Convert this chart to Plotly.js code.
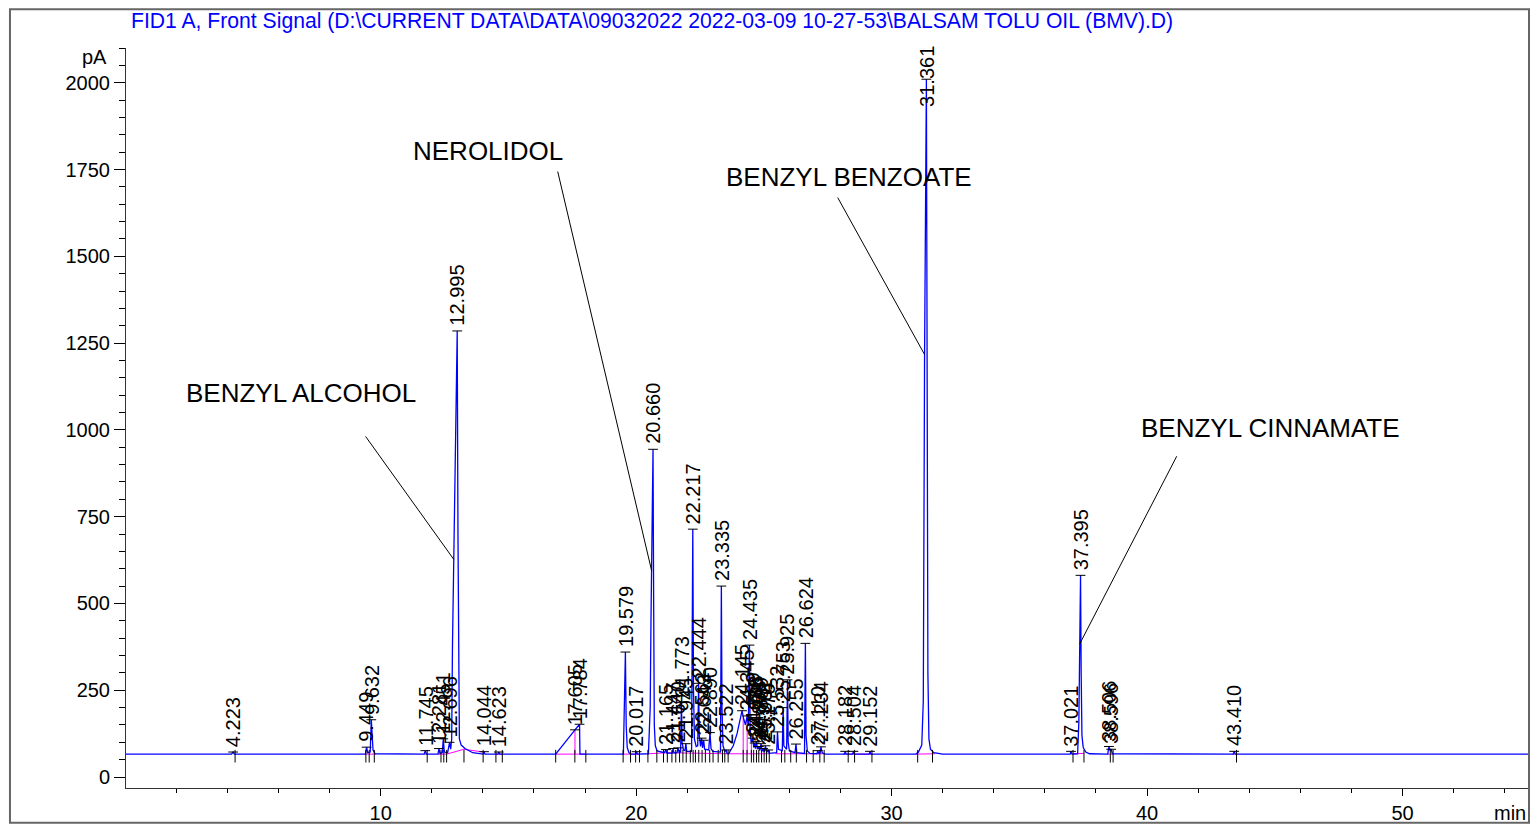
<!DOCTYPE html>
<html>
<head>
<meta charset="utf-8">
<script src="https://cdn.plot.ly/plotly-3.0.1.min.js"></script>
<style>
html,body{margin:0;padding:0;background:#fff;}
#chart{width:1531px;height:825px;}
</style>
</head>
<body>
<div id="chart"></div>
<script>
// ---- Chromatogram signal (retention time in min, signal in pA) ----
const signalTime = [
 0, 4.16, 4.223, 4.27,
 9.40, 9.449, 9.49, 9.59, 9.632, 9.66, 9.70, 9.78,
 11.70, 11.745, 11.79,
 12.24, 12.281, 12.32, 12.41, 12.451, 12.49, 12.62, 12.696, 12.74, 12.78, 12.81, 12.86, 12.93, 12.995, 13.025, 13.05, 13.08, 13.15, 13.30, 13.60, 13.90,
 14.0, 14.044, 14.08, 14.59, 14.623, 14.66,
 16.85, 17.605, 17.784, 17.80,
 19.50, 19.579, 19.61, 19.65, 19.72, 19.80, 19.98, 20.017, 20.05,
 20.48, 20.55, 20.58, 20.61, 20.660, 20.685, 20.71, 20.75, 20.82,
 21.10, 21.165, 21.20, 21.41, 21.447, 21.48, 21.60, 21.640, 21.68, 21.74, 21.773, 21.80, 21.85, 21.91, 21.945, 21.98,
 22.17, 22.217, 22.245, 22.28, 22.35, 22.41, 22.444, 22.47, 22.52, 22.562, 22.60, 22.643, 22.68, 22.84, 22.890, 22.93, 23.00,
 23.30, 23.335, 23.36, 23.40, 23.47, 23.522, 23.56, 23.62,
 23.80, 23.95, 24.08, 24.145, 24.20, 24.28, 24.345, 24.39, 24.435, 24.46, 24.50,
 24.569, 24.60, 24.636, 24.67, 24.708, 24.75, 24.803, 24.84, 24.889, 24.93, 24.972, 25.01, 25.061, 25.11, 25.170, 25.21,
 25.50, 25.532, 25.57, 25.72, 25.753, 25.78, 25.89, 25.925, 25.95, 26.00, 26.22, 26.255, 26.29, 26.59, 26.624, 26.65, 26.70, 26.80,
 27.08, 27.110, 27.15, 27.20, 27.234, 27.28, 27.40,
 28.15, 28.182, 28.22, 28.47, 28.504, 28.54, 29.12, 29.152, 29.19,
 30.95, 31.05, 31.18, 31.24, 31.29, 31.361, 31.39, 31.42, 31.46, 31.52, 31.65, 32.0,
 36.99, 37.021, 37.06, 37.28, 37.33, 37.36, 37.395, 37.42, 37.45, 37.50, 37.60, 37.75,
 38.46, 38.506, 38.55, 38.596, 38.64,
 43.37, 43.410, 43.45, 54.95
];
const signalPA = [
 66, 66, 72, 66,
 66, 86, 70, 72, 165, 110, 78, 67,
 66, 76, 66,
 66, 82, 68, 70, 110, 72, 70, 100, 80, 110, 380, 627, 950, 1285, 700, 200, 110, 92, 82, 70, 67,
 66, 73, 66, 66, 72, 66,
 66, 136, 152, 66,
 66, 360, 150, 85, 70, 66, 66, 73, 66,
 67, 200, 450, 593, 944, 500, 150, 90, 75,
 70, 79, 69, 69, 82, 69, 70, 84, 71, 72, 215, 100, 78, 76, 96, 74,
 74, 714, 250, 110, 88, 90, 270, 120, 88, 112, 84, 106, 80, 78, 128, 82, 74,
 72, 550, 200, 90, 74, 78, 68, 67,
 90, 125, 165, 191, 170, 150, 176, 150, 380, 140, 100,
 112, 85, 98, 82, 102, 80, 88, 76, 96, 74, 82, 72, 90, 71, 78, 68,
 70, 130, 80, 76, 200, 90, 80, 280, 100, 75, 70, 95, 70, 68, 385, 120, 75, 68,
 67, 76, 68, 70, 87, 70, 66,
 66, 74, 66, 66, 74, 66, 66, 74, 66,
 66, 72, 92, 220, 1217, 2010, 1200, 300, 110, 80, 70, 66,
 66, 74, 66, 67, 160, 383, 581, 300, 120, 85, 72, 67,
 66, 88, 76, 80, 67,
 66, 74, 66, 66
];

// ---- Integration baseline (magenta), null separates segments ----
const baselineTime = [9.40, 9.80, null, 11.70, 11.82, null, 12.24, 12.58, 13.26, 14.01, 14.08, null, 14.51, 14.76, null,
 16.85, 18.03, null, 17.605, 17.605, null, 19.49, 20.13, null, 20.46, 21.22, 23.60, null, 23.62, 25.21, null,
 24.19, 24.19, null, 24.345, 24.345, null, 24.51, 24.51, null, 25.45, 27.36, null, 28.10, 29.25, null, 30.95, 31.70, null,
 37.10, 37.53, null, 38.44, 38.67, null, 43.35, 43.50];
const baselinePA = [66, 66, null, 66, 66, null, 66, 66, 80, 72, 66, null, 66, 66, null,
 66, 66, null, 66, 136, null, 66, 66, null, 67, 70, 67, null, 67, 67, null,
 66, 170, null, 66, 176, null, 66, 100, null, 67, 67, null, 66, 66, null, 66, 67, null,
 67, 68, null, 66, 66, null, 66, 66];

// ---- Integration event tick marks (min) ----
const eventTimes = [4.30, 9.42, 9.55, 9.75, 11.82, 12.36, 12.47, 12.58, 13.26, 14.01, 14.51, 14.76, 16.85, 17.60, 18.03,
 19.49, 19.78, 19.98, 20.13, 20.46, 20.81, 21.07, 21.22, 21.40, 21.55, 21.70, 21.83, 21.96, 22.12, 22.23, 22.32, 22.45,
 22.58, 22.71, 22.88, 23.01, 23.21, 23.38, 23.47, 23.60, 24.19, 24.34, 24.51, 24.60, 24.71, 24.80, 24.91, 25.01, 25.10,
 25.21, 25.69, 25.82, 26.05, 26.27, 26.67, 26.93, 27.19, 27.36, 28.30, 28.55, 29.23, 31.02, 31.60, 37.10, 37.53, 38.56,
 38.67, 43.50];
const eventLevel = 60;

// ---- Peak labels (retention times) and apex heights ----
const peakLabels = ['4.223','9.449','9.632','11.745','12.281','12.451','12.696','12.995','14.044','14.623','17.605','17.784',
 '19.579','20.017','20.660','21.165','21.447','21.640','21.773','21.945','22.217','22.444','22.562','22.643','22.890',
 '23.335','23.522','24.145','24.345','24.435','24.569','24.636','24.708','24.803','24.889','24.972','25.061','25.170',
 '25.532','25.753','25.925','26.255','26.624','27.110','27.234','28.182','28.504','29.152','31.361','37.021','37.395',
 '38.506','38.596','43.410'];
const peakApex = [72, 86, 165, 76, 82, 110, 100, 1285, 73, 72, 136, 152,
 360, 73, 944, 79, 82, 84, 215, 96, 714, 270, 112, 106, 128,
 550, 78, 191, 176, 380, 112, 98, 102, 88, 96, 82, 90, 78,
 130, 200, 280, 95, 385, 76, 87, 74, 74, 74, 2010, 74, 581,
 88, 80, 74];

// ---- Compound names ----
const compoundNames = ['BENZYL ALCOHOL', 'NEROLIDOL', 'BENZYL BENZOATE', 'BENZYL CINNAMATE'];
const compoundTime = [12.86, 20.61, 31.29, 37.36];   // peak flank the pointer touches
const compoundPA = [627, 593, 1217, 383];

const titleText = 'FID1 A, Front Signal (D:\\CURRENT DATA\\DATA\\09032022 2022-03-09 10-27-53\\BALSAM TOLU OIL (BMV).D)';
const xTicks = [10, 20, 30, 40, 50];
const yTicks = [0, 250, 500, 750, 1000, 1250, 1500, 1750, 2000];

// ---- layout helpers (label & pointer placement, layout only) ----
const namePos = [ [6.89, 1105], [14.21, 1804], [28.32, 1729], [44.83, 1004] ];
const pointerStart = [ [9.41, 981], [16.93, 1744], [27.89, 1669], [41.16, 924] ];
const Y_TOP = 2100;
const LABEL_SPAN = 190;   // approx. label length in pA units

const FONT = 'Liberation Sans, Arial, Helvetica, sans-serif';
const peakNums = peakLabels.map(Number);

const traces = [
  { x: baselineTime, y: baselinePA, mode: 'lines', line: {color: '#ff00ff', width: 1}, hoverinfo: 'skip', connectgaps: false },
  { x: signalTime, y: signalPA, mode: 'lines', line: {color: '#0000ff', width: 1.3}, hoverinfo: 'skip' },
  { x: eventTimes, y: eventTimes.map(() => eventLevel), mode: 'markers', hoverinfo: 'skip',
    marker: {symbol: 'line-ns', size: 9, line: {color: '#000', width: 1}} },
  { x: peakNums, y: peakApex, mode: 'markers', hoverinfo: 'skip', cliponaxis: false,
    marker: {symbol: 'line-ew', size: 7, line: {color: '#000', width: 1}} }
];

const annotations = [];
peakLabels.forEach((lab, i) => {
  const tooHigh = peakApex[i] + LABEL_SPAN > Y_TOP;
  annotations.push({ x: peakNums[i], y: tooHigh ? Y_TOP : peakApex[i], xref: 'x', yref: 'y', text: lab, textangle: -90,
    showarrow: false, xanchor: 'center', yanchor: tooHigh ? 'top' : 'bottom', yshift: tooHigh ? 3 : 4, borderpad: 0,
    font: {family: FONT, size: 20, color: '#000'} });
});
compoundNames.forEach((n, i) => {
  annotations.push({ x: namePos[i][0], y: namePos[i][1], xref: 'x', yref: 'y', text: n, showarrow: false,
    xanchor: 'center', yanchor: 'middle', font: {family: FONT, size: 26, color: '#000'} });
});
annotations.push({ xref: 'paper', yref: 'paper', x: -0.012, y: 0.9875, text: 'pA', showarrow: false,
  xanchor: 'right', yanchor: 'middle', font: {family: FONT, size: 20, color: '#000'} });
annotations.push({ xref: 'paper', yref: 'paper', x: 0.9995, y: -0.0334, text: 'min', showarrow: false,
  xanchor: 'right', yanchor: 'middle', font: {family: FONT, size: 20, color: '#000'} });

const shapes = compoundNames.map((n, i) => ({
  type: 'line', xref: 'x', yref: 'y', x0: pointerStart[i][0], y0: pointerStart[i][1],
  x1: compoundTime[i], y1: compoundPA[i], line: {color: '#000', width: 1}
}));
shapes.push({ type: 'rect', xref: 'paper', yref: 'paper', x0: -0.0827, x1: 1.0, y0: -0.0469, y1: 1.0523,
  line: {color: '#666', width: 2}, fillcolor: 'rgba(0,0,0,0)', layer: 'above' });

const layout = {
  width: 1531, height: 825,
  margin: {l: 126, r: 2, t: 48, b: 37, pad: 0},
  paper_bgcolor: '#fff', plot_bgcolor: '#fff',
  showlegend: false,
  font: {family: FONT, size: 20, color: '#000'},
  title: {text: titleText, xref: 'container', yref: 'container', x: 131/1531, xanchor: 'left',
          y: 1 - 21/825, yanchor: 'middle', font: {family: FONT, size: 21.15, color: '#0000ff'}},
  xaxis: {range: [0.03, 54.95], tickmode: 'array', tickvals: xTicks, ticktext: xTicks.map(String),
          ticks: 'outside', ticklen: 7, tickwidth: 1, tickcolor: '#000',
          showline: true, linecolor: '#333', linewidth: 1, showgrid: false, zeroline: false,
          tickfont: {family: FONT, size: 20, color: '#000'},
          minor: {dtick: 2, tick0: 0, ticks: 'outside', ticklen: 4, tickwidth: 1, tickcolor: '#000', showgrid: false}},
  yaxis: {range: [-31.6, Y_TOP], tickmode: 'array', tickvals: yTicks, ticktext: yTicks.map(String),
          ticks: 'outside', ticklen: 11, tickwidth: 1, tickcolor: '#000',
          showline: true, linecolor: '#333', linewidth: 1, showgrid: false, zeroline: false,
          tickfont: {family: FONT, size: 20, color: '#000'},
          minor: {dtick: 50, tick0: 0, ticks: 'outside', ticklen: 6, tickwidth: 1, tickcolor: '#000', showgrid: false}},
  annotations: annotations,
  shapes: shapes
};

Plotly.newPlot('chart', traces, layout, {staticPlot: true, displayModeBar: false});
</script>
</body>
</html>
